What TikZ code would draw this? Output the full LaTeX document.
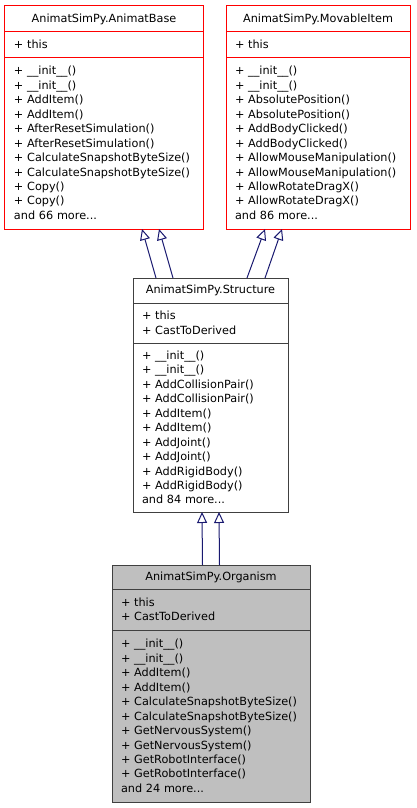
\documentclass[tikz,border=0pt]{standalone}
\usepackage{fontspec}
\usetikzlibrary{positioning,arrows.meta}
\newfontfamily\umlfont{DejaVu Sans}
\definecolor{edgeblue}{HTML}{191970}
\definecolor{boxgray}{HTML}{404040}
\definecolor{fillgray}{HTML}{BFBFBF}
\tikzset{
  part/.style={draw, fill=white, line width=1bp, inner xsep=9bp, inner ysep=0pt, outer sep=0pt,
    text width=#1, font=\umlfont\fontsize{11.3}{14.5}\selectfont},
  namepart/.style={part=#1, align=center},
  listpart/.style={part=#1, align=left},
  inherit/.style={draw=edgeblue, line width=1bp, -{Triangle[open,length=11bp,width=10bp]}}
}

\begin{document}
\begin{tikzpicture}[x=1bp, y=-1bp]
  \useasboundingbox[fill=white] (0,0) rectangle (416,808);
  % base classes
  \node[namepart=180bp, draw=red, minimum height=26bp, anchor=north] (basename) at (104,6) {AnimatSimPy.AnimatBase};
  \node[listpart=180bp, draw=red, minimum height=25bp, below=0pt of basename] (baseattr) {+ this};
  \node[listpart=180bp, draw=red, minimum height=172bp, below=0pt of baseattr] (baseops) {+ \_\_init\_\_()\\+ \_\_init\_\_()\\+ AddItem()\\+ AddItem()\\+ AfterResetSimulation()\\+ AfterResetSimulation()\\+ CalculateSnapshotByteSize()\\+ CalculateSnapshotByteSize()\\+ Copy()\\+ Copy()\\and 66 more...};

  \node[namepart=166bp, draw=red, minimum height=26bp, anchor=north] (movname) at (318,6) {AnimatSimPy.MovableItem};
  \node[listpart=166bp, draw=red, minimum height=25bp, below=0pt of movname] (movattr) {+ this};
  \node[listpart=166bp, draw=red, minimum height=172bp, below=0pt of movattr] (movops) {+ \_\_init\_\_()\\+ \_\_init\_\_()\\+ AbsolutePosition()\\+ AbsolutePosition()\\+ AddBodyClicked()\\+ AddBodyClicked()\\+ AllowMouseManipulation()\\+ AllowMouseManipulation()\\+ AllowRotateDragX()\\+ AllowRotateDragX()\\and 86 more...};

  % Structure
  \node[namepart=137bp, draw=boxgray, minimum height=25bp, anchor=north] (stname) at (210.5,278) {AnimatSimPy.Structure};
  \node[listpart=137bp, draw=boxgray, minimum height=40bp, below=0pt of stname] (stattr) {+ this\\+ CastToDerived};
  \node[listpart=137bp, draw=boxgray, minimum height=169bp, below=0pt of stattr] (stops) {+ \_\_init\_\_()\\+ \_\_init\_\_()\\+ AddCollisionPair()\\+ AddCollisionPair()\\+ AddItem()\\+ AddItem()\\+ AddJoint()\\+ AddJoint()\\+ AddRigidBody()\\+ AddRigidBody()\\and 84 more...};

  % Organism
  \node[namepart=180bp, draw=boxgray, fill=fillgray, minimum height=24bp, anchor=north] (orgname) at (211,565) {AnimatSimPy.Organism};
  \node[listpart=180bp, draw=boxgray, fill=fillgray, minimum height=41bp, below=0pt of orgname] (orgattr) {+ this\\+ CastToDerived};
  \node[listpart=180bp, draw=boxgray, fill=fillgray, minimum height=172bp, below=0pt of orgattr] (orgops) {+ \_\_init\_\_()\\+ \_\_init\_\_()\\+ AddItem()\\+ AddItem()\\+ CalculateSnapshotByteSize()\\+ CalculateSnapshotByteSize()\\+ GetNervousSystem()\\+ GetNervousSystem()\\+ GetRobotInterface()\\+ GetRobotInterface()\\and 24 more...};

  \foreach \from/\fx/\to/\tx in {
    stname/-54.5/baseops/38, stname/-37.5/baseops/55,
    stname/36.5/movops/-53, stname/54.5/movops/-36,
    orgname/-8.5/stops/-8.5, orgname/8.5/stops/8.5} {
    \draw[inherit] ([xshift=\fx bp]\from.north) -- ([xshift=\tx bp]\to.south);
  }
\end{tikzpicture}
\end{document}
